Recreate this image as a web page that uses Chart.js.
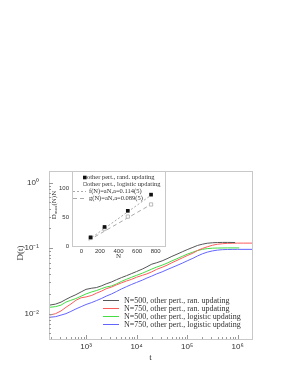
<!DOCTYPE html>
<html><head><meta charset="utf-8">
<script src="https://cdn.jsdelivr.net/npm/chart.js@4/dist/chart.umd.min.js"></script>
<style>
html,body{margin:0;padding:0;background:#fff;width:295px;height:382px;overflow:hidden}
#main{position:absolute;left:0;top:0}
#inset{position:absolute;left:40px;top:160px}
</style></head><body>
<canvas id="main" width="295" height="382"></canvas>
<canvas id="inset" width="140" height="102"></canvas>
<script>
// ---- main panel data ----
const seriesLabels = [
  "N=500, other pert., ran. updating",
  "N=750, other pert., ran. updating",
  "N=500, other pert., logistic updating",
  "N=750, other pert., logistic updating"
];
const tBlack = [190,250,320,400,500,630,800,1000,1300,1600,2000,2500,3200,4000,5000,6300,8000,1e4,1.3e4,1.6e4,2e4,2.5e4,3.2e4,4e4,5e4,6.3e4,8e4,1e5,1.3e5,1.6e5,2e5,2.5e5,3.2e5,4e5,5e5,6.3e5,8.9e5];
const dBlack = [0.0135,0.0140,0.0150,0.0165,0.0180,0.0195,0.0215,0.0235,0.0245,0.0250,0.0265,0.0285,0.0305,0.0330,0.0355,0.0380,0.0410,0.0440,0.0480,0.0520,0.0570,0.0600,0.0640,0.0690,0.0750,0.0810,0.0880,0.0950,0.1030,0.1100,0.1150,0.1190,0.1210,0.1220,0.1225,0.1225,0.1220];
const tRed = [190,250,320,400,500,630,800,1000,1300,1600,2000,2500,3200,4000,5000,6300,8000,1e4,1.3e4,1.6e4,2e4,2.5e4,3.2e4,4e4,5e4,6.3e4,8e4,1e5,1.3e5,1.6e5,2e5,2.5e5,3.2e5,4e5,5e5,6.3e5,8e5,1e6,1.3e6,1.92e6];
const dRed = [0.0095,0.0100,0.0110,0.0125,0.0140,0.0160,0.0175,0.0180,0.0190,0.0205,0.0220,0.0240,0.0255,0.0275,0.0295,0.0315,0.0335,0.0360,0.0385,0.0405,0.0435,0.0475,0.0510,0.0550,0.0600,0.0650,0.0710,0.0770,0.0840,0.0920,0.0990,0.1050,0.1110,0.1150,0.1170,0.1185,0.1190,0.1195,0.1195,0.1195];
const tGreen = [190,250,320,400,500,630,800,1000,1300,1600,2000,2500,3200,4000,5000,6300,8000,1e4,1.3e4,1.6e4,2e4,2.5e4,3.2e4,4e4,5e4,6.3e4,8e4,1e5,1.3e5,1.6e5,2e5,2.5e5,3.2e5,4e5,6.3e5,1.07e6];
const dGreen = [0.0125,0.0128,0.0135,0.0150,0.0160,0.0170,0.0185,0.0200,0.0215,0.0225,0.0240,0.0255,0.0265,0.0285,0.0310,0.0335,0.0360,0.0385,0.0415,0.0445,0.0480,0.0515,0.0550,0.0590,0.0640,0.0690,0.0750,0.0810,0.0870,0.0920,0.0960,0.0985,0.1000,0.1005,0.1010,0.1010];
const tBlue = [190,250,320,400,500,630,800,1000,1300,1600,2000,2500,3200,4000,5000,6300,8000,1e4,1.3e4,1.6e4,2e4,2.5e4,3.2e4,4e4,5e4,6.3e4,8e4,1e5,1.3e5,1.6e5,2e5,2.5e5,3.2e5,4e5,5e5,6.3e5,8e5,1e6,1.92e6];
const dBlue = [0.0088,0.0090,0.0095,0.0100,0.0108,0.0118,0.0128,0.0138,0.0148,0.0158,0.0170,0.0185,0.0200,0.0218,0.0238,0.0258,0.0280,0.0300,0.0325,0.0350,0.0375,0.0405,0.0435,0.0470,0.0505,0.0545,0.0590,0.0640,0.0700,0.0760,0.0820,0.0870,0.0910,0.0935,0.0950,0.0955,0.0958,0.0960,0.0960];
const yPowerTicks = [1, 0.1, 0.01];
const xPowerTicks = [1e3, 1e4, 1e5, 1e6];

// ---- inset data ----
const insetLabels = ["other pert., rand. updating","other pert., logistic updating","f(N)=aN,a=0.114(5)","g(N)=aN,a=0.089(5)"];
const nValues = [100, 250, 500, 750];
const dRand = [15, 33, 61, 89];
const dLogistic = [14, 30, 51, 72];
const fitN = [80, 750];
const fFit = [11, 88];
const gFit = [10, 72];
const insetXTicks = [0, 200, 400, 600, 800];
const insetYTicks = [0, 50, 100];

const pts = (xs, ys) => xs.map((x, i) => ({x, y: ys[i]}));
const SUP = {'0':'⁰','1':'¹','2':'²','3':'³','4':'⁴','5':'⁵','6':'⁶','7':'⁷','8':'⁸','9':'⁹','-':'⁻'};
const pow10Label = v => '10' + String(Math.round(Math.log10(v))).split('').map(c => SUP[c]).join('');
const isPow = (v, list) => list.some(p => Math.abs(Math.log10(v) - Math.log10(p)) < 1e-6);

const colors = ['#555555', '#ff5a5a', '#44dd44', '#6464ff'];
const mainData = [pts(tBlack,dBlack), pts(tRed,dRed), pts(tGreen,dGreen), pts(tBlue,dBlue)];
const noGrid = {display: false, drawTicks: false, tickLength: 0};

const frameAndTicks = {
  id: 'frameAndTicks',
  afterDraw(chart) {
    const {ctx, chartArea: a, scales} = chart;
    ctx.save();
    ctx.strokeStyle = '#c8c8c8';
    ctx.lineWidth = 1;
    ctx.strokeRect(Math.round(a.left)+0.5, Math.round(a.top)+0.5, Math.round(a.right-a.left), Math.round(a.bottom-a.top));
    ctx.strokeStyle = '#999';
    const xs = scales.x, ys = scales.y;
    for (let e = 2; e <= 6; e++) for (let m = 1; m <= 9; m++) {
      const v = m * Math.pow(10, e);
      if (v < xs.min || v > xs.max) continue;
      const px = Math.round(xs.getPixelForValue(v)) + 0.5;
      const len = m === 1 ? 4 : 2;
      ctx.beginPath(); ctx.moveTo(px, a.bottom); ctx.lineTo(px, a.bottom - len); ctx.stroke();
    }
    for (let e = -3; e <= 0; e++) for (let m = 1; m <= 9; m++) {
      const v = m * Math.pow(10, e);
      if (v < ys.min || v > ys.max) continue;
      const py = Math.round(ys.getPixelForValue(v)) + 0.5;
      const len = m === 1 ? 4 : 2;
      ctx.beginPath(); ctx.moveTo(a.left, py); ctx.lineTo(a.left + len, py); ctx.stroke();
    }
    // axis titles
    ctx.fillStyle = '#333';
    ctx.font = '9px "Liberation Serif"';
    ctx.textAlign = 'center'; ctx.textBaseline = 'middle';
    ctx.fillText('t', (a.left + a.right) / 2, 358);
    ctx.save(); ctx.translate(21, 253); ctx.rotate(-Math.PI / 2); ctx.fillText('D(t)', 0, 0); ctx.restore();
    // legend
    ctx.font = '8px "Liberation Serif"';
    ctx.textAlign = 'left';
    const rows = [300, 308, 316, 324];
    chart.data.datasets.forEach((ds, i) => {
      ctx.strokeStyle = ds.borderColor; ctx.lineWidth = 1;
      ctx.beginPath(); ctx.moveTo(103, rows[i] + 0.5); ctx.lineTo(119, rows[i] + 0.5); ctx.stroke();
      ctx.fillStyle = '#333';
      ctx.fillText(ds.label, 124, rows[i] + 0.5);
    });
    ctx.restore();
  }
};

new Chart(document.getElementById('main'), {
  type: 'line',
  data: {
    datasets: mainData.map((d, i) => ({
      label: seriesLabels[i], data: d, borderColor: colors[i], backgroundColor: colors[i],
      borderWidth: 1, pointRadius: 0, tension: 0, fill: false
    }))
  },
  options: {
    responsive: false, animation: false, devicePixelRatio: 1,
    layout: {padding: {top: 171, right: 43, left: 0, bottom: 0}},
    plugins: {legend: {display: false}, tooltip: {enabled: false}},
    scales: {
      x: {
        type: 'logarithmic', min: 185, max: 1.92e6,
        grid: noGrid, border: {display: false},
        ticks: {autoSkip: false, maxRotation: 0, padding: 3, color: '#333',
          font: {family: '"Liberation Sans"', size: 8},
          callback: v => isPow(v, xPowerTicks) ? pow10Label(v) : ''},
        afterFit: s => { s.height = 43; }
      },
      y: {
        type: 'logarithmic', min: 0.0041, max: 1.51,
        grid: noGrid, border: {display: false},
        ticks: {autoSkip: false, padding: 10, color: '#333',
          font: {family: '"Liberation Sans"', size: 8},
          callback: v => isPow(v, yPowerTicks) ? pow10Label(v) : ''},
        afterFit: s => { s.width = 49; }
      }
    }
  },
  plugins: [frameAndTicks]
});

// ---- inset ----
const insetDeco = {
  id: 'insetDeco',
  beforeDraw(chart) {
    const {ctx, chartArea: a} = chart;
    ctx.save(); ctx.fillStyle = '#fff';
    ctx.fillRect(a.left, a.top, a.right - a.left, a.bottom - a.top);
    ctx.restore();
  },
  afterDraw(chart) {
    const {ctx, chartArea: a} = chart;
    ctx.save();
    ctx.strokeStyle = '#c8c8c8'; ctx.lineWidth = 1;
    ctx.strokeRect(Math.round(a.left)+0.5, Math.round(a.top)+0.5, Math.round(a.right-a.left), Math.round(a.bottom-a.top));
    ctx.fillStyle = '#333';
    ctx.font = '7px "Liberation Serif"';
    ctx.textAlign = 'center'; ctx.textBaseline = 'middle';
    ctx.fillText('N', (a.left + a.right) / 2, 96);
    // rotated y title with subscript
    ctx.save(); ctx.translate(14, 45); ctx.rotate(-Math.PI / 2);
    ctx.textAlign = 'left';
    const p1 = 'D', p2 = 'max', p3 = '(N)N';
    ctx.font = '7px "Liberation Serif"'; const w1 = ctx.measureText(p1).width;
    ctx.font = '5px "Liberation Serif"'; const w2 = ctx.measureText(p2).width;
    ctx.font = '7px "Liberation Serif"'; const w3 = ctx.measureText(p3).width;
    let x0 = -(w1 + w2 + w3) / 2;
    ctx.fillText(p1, x0, 0);
    ctx.font = '5px "Liberation Serif"'; ctx.fillText(p2, x0 + w1, 2);
    ctx.font = '7px "Liberation Serif"'; ctx.fillText(p3, x0 + w1 + w2, 0);
    ctx.restore();
    // legend
    const ds = chart.data.datasets;
    const rows = [17.5, 24, 31, 38];
    ctx.textAlign = 'left';
    ctx.font = '6.5px "Liberation Serif"';
    ctx.fillStyle = '#111'; ctx.fillRect(43, rows[0] - 1.8, 3.6, 3.6);
    ctx.strokeStyle = '#aaa'; ctx.strokeRect(43.5, rows[1] - 1.5, 3, 3);
    ctx.strokeStyle = '#aaa'; ctx.lineWidth = 1;
    ctx.setLineDash([2, 2]);
    ctx.beginPath(); ctx.moveTo(33, rows[2] + 0.5); ctx.lineTo(46, rows[2] + 0.5); ctx.stroke();
    ctx.setLineDash([4, 3]);
    ctx.beginPath(); ctx.moveTo(33, rows[3] + 0.5); ctx.lineTo(46, rows[3] + 0.5); ctx.stroke();
    ctx.setLineDash([]);
    ctx.fillStyle = '#333';
    ctx.fillText(ds[0].label, 47, rows[0]);
    ctx.fillText(ds[1].label, 47, rows[1]);
    ctx.fillText(ds[2].label, 49, rows[2]);
    ctx.fillText(ds[3].label, 49, rows[3]);
    ctx.restore();
  }
};

new Chart(document.getElementById('inset'), {
  type: 'scatter',
  data: {
    datasets: [
      {label: insetLabels[0], data: pts(nValues, dRand), pointStyle: 'rect', pointRadius: 2.6,
       backgroundColor: '#111', borderColor: '#111', borderWidth: 0, showLine: false, order: 0},
      {label: insetLabels[1], data: pts(nValues, dLogistic), pointStyle: 'rect', pointRadius: 2.3,
       backgroundColor: '#fff', borderColor: '#aaa', borderWidth: 0.8, showLine: false, order: 1},
      {label: insetLabels[2], data: pts(fitN, fFit), showLine: true, pointRadius: 0,
       borderColor: '#aaa', borderWidth: 1, borderDash: [2, 2], order: 2},
      {label: insetLabels[3], data: pts(fitN, gFit), showLine: true, pointRadius: 0,
       borderColor: '#aaa', borderWidth: 1, borderDash: [4, 3], order: 3}
    ]
  },
  options: {
    responsive: false, animation: false, devicePixelRatio: 1,
    layout: {padding: {top: 11, right: 15, left: 0, bottom: 0}},
    plugins: {legend: {display: false}, tooltip: {enabled: false}},
    scales: {
      x: {
        type: 'linear', min: -100, max: 900,
        grid: noGrid, border: {display: false},
        afterBuildTicks: s => { s.ticks = insetXTicks.map(v => ({value: v})); },
        ticks: {autoSkip: false, maxRotation: 0, padding: 2, color: '#333',
          font: {family: '"Liberation Sans"', size: 6}},
        afterFit: s => { s.height = 16; }
      },
      y: {
        type: 'linear', min: 0, max: 130,
        grid: noGrid, border: {display: false},
        afterBuildTicks: s => { s.ticks = insetYTicks.map(v => ({value: v})); },
        ticks: {autoSkip: false, padding: 3, color: '#333',
          font: {family: '"Liberation Sans"', size: 6}},
        afterFit: s => { s.width = 32; }
      }
    }
  },
  plugins: [insetDeco]
});
</script>
</body></html>
